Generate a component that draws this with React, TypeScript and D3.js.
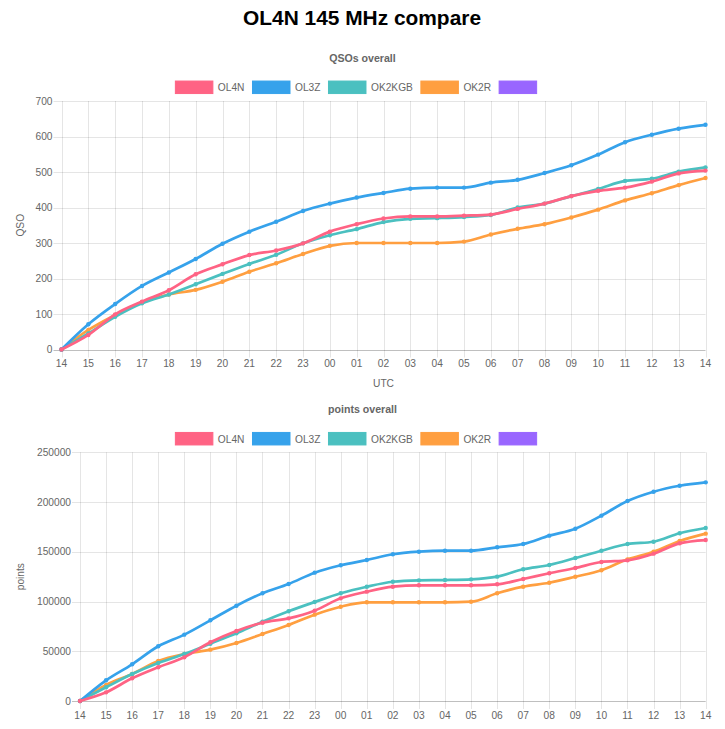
import React, { useEffect, useRef } from 'react';
import * as d3 from 'd3';

const hours = ["14","15","16","17","18","19","20","21","22","23","00","01","02","03","04","05","06","07","08","09","10","11","12","13","14"];
const seriesNames = ["OL4N", "OL3Z", "OK2KGB", "OK2R", ""];
const seriesColors = ["rgb(255, 99, 132)", "rgb(54, 162, 235)", "rgb(75, 192, 192)", "rgb(255, 159, 64)", "rgb(153, 102, 255)"];

const qsoOL4N = [0, 41, 99, 135, 167, 212, 240, 266, 279, 299, 332, 353, 369, 375, 375, 377, 380, 396, 411, 432, 447, 456, 473, 496, 504];
const qsoOL3Z = [0, 71, 128, 179, 217, 255, 298, 332, 360, 390, 411, 428, 441, 453, 456, 456, 470, 478, 497, 519, 549, 584, 605, 622, 633];
const qsoOK2KGB = [0, 45, 92, 130, 155, 184, 213, 241, 267, 299, 322, 339, 359, 368, 370, 373, 379, 400, 411, 432, 452, 475, 481, 501, 513];
const qsoOK2R = [0, 55, 97, 133, 155, 168, 191, 219, 243, 269, 292, 300, 300, 300, 300, 304, 324, 340, 353, 372, 394, 420, 440, 463, 483];

const ptsOL4N = [0, 8700, 22800, 33900, 43900, 59000, 70400, 78700, 83100, 90800, 103200, 109900, 114900, 116300, 116300, 116300, 117300, 122600, 128400, 133700, 139700, 141400, 148100, 158500, 161800];
const ptsOL3Z = [0, 20800, 36900, 55000, 66700, 81100, 95800, 108300, 117600, 129000, 136400, 141700, 147500, 150100, 151100, 151100, 154500, 157800, 166200, 173200, 186300, 201000, 210400, 216400, 219800];
const ptsOK2KGB = [0, 13800, 27100, 38200, 47200, 57600, 68100, 79700, 90200, 99500, 108300, 114900, 119900, 121300, 121600, 122300, 125000, 132400, 136700, 143700, 151100, 157800, 160100, 168600, 173900];
const ptsOK2R = [0, 16100, 27100, 40200, 47200, 51600, 58300, 67300, 76400, 86800, 94800, 99200, 99200, 99200, 99200, 99800, 108300, 114900, 118900, 124900, 131400, 142400, 150100, 160800, 168200];

const qsoTicks = [0, 100, 200, 300, 400, 500, 600, 700];
const ptsTicks = [0, 50000, 100000, 150000, 200000, 250000];

const FONT = "'Liberation Sans', Arial, Helvetica, sans-serif";
const GRAY = "#666";

type Cfg = {
  title: string; titleY: number; legendY: number;
  x0: number; x1: number; yTop: number; yBottom: number;
  ticks: number[]; yLabel: string; xLabel: string | null;
  series: number[][];
};

function drawChart(svg: any, cfg: Cfg) {
  const g = svg.append('g');
  // chart title
  g.append('text').attr('x', 362.5).attr('y', cfg.titleY)
    .attr('text-anchor', 'middle').attr('dominant-baseline', 'central')
    .attr('font-family', FONT).attr('font-size', 10.6).attr('font-weight', 'bold')
    .attr('fill', GRAY).text(cfg.title);

  // legend
  const boxW = 37.5, boxH = 12.5, gapBT = 5, gapNext = 8;
  const lg = g.append('g');
  const widths: number[] = seriesNames.map((name) => {
    if (!name) return 0;
    const t = lg.append('text').attr('font-family', FONT).attr('font-size', 10.2).text(name);
    const w = (t.node() as SVGTextElement).getComputedTextLength();
    t.remove();
    return w;
  });
  const total = d3.sum(widths.map((w) => boxW + gapBT + w + gapNext));
  let cx = 362.5 - total / 2;
  seriesNames.forEach((name, i) => {
    lg.append('rect').attr('x', cx).attr('y', cfg.legendY - boxH / 2)
      .attr('width', boxW).attr('height', boxH)
      .attr('fill', seriesColors[i]).attr('stroke', seriesColors[i]).attr('stroke-width', 1);
    if (name) {
      lg.append('text').attr('x', cx + boxW + gapBT).attr('y', cfg.legendY + 0.5)
        .attr('dominant-baseline', 'central')
        .attr('font-family', FONT).attr('font-size', 10.2).attr('fill', GRAY).text(name);
    }
    cx += boxW + gapBT + widths[i] + gapNext;
  });

  const x = d3.scalePoint<number>().domain(d3.range(hours.length)).range([cfg.x0, cfg.x1]);
  const y = d3.scaleLinear().domain([0, cfg.ticks[cfg.ticks.length - 1]]).range([cfg.yBottom, cfg.yTop]);

  // horizontal grid
  cfg.ticks.forEach((t) => {
    const yy = Math.round(y(t)) + 0.5;
    g.append('line').attr('x1', cfg.x0 - 8).attr('x2', cfg.x1).attr('y1', yy).attr('y2', yy)
      .attr('stroke', t === 0 ? 'rgba(0,0,0,0.25)' : 'rgba(0,0,0,0.1)').attr('stroke-width', 1);
    g.append('text').attr('x', cfg.x0 - 9).attr('y', y(t))
      .attr('text-anchor', 'end').attr('dominant-baseline', 'central')
      .attr('font-family', FONT).attr('font-size', 10.2).attr('fill', GRAY).text(String(t));
  });
  // vertical grid
  hours.forEach((h, i) => {
    const xx = Math.round(x(i)!) + 0.5;
    g.append('line').attr('x1', xx).attr('x2', xx).attr('y1', cfg.yTop).attr('y2', cfg.yBottom + 8)
      .attr('stroke', 'rgba(0,0,0,0.1)').attr('stroke-width', 1);
    g.append('text').attr('x', x(i)!).attr('y', cfg.yBottom + 14)
      .attr('text-anchor', 'middle').attr('dominant-baseline', 'central')
      .attr('font-family', FONT).attr('font-size', 10.2).attr('fill', GRAY).text(h);
  });

  // y label
  const midY = (cfg.yTop + cfg.yBottom) / 2;
  g.append('text').attr('transform', `translate(20,${midY}) rotate(-90)`)
    .attr('text-anchor', 'middle').attr('dominant-baseline', 'central')
    .attr('font-family', FONT).attr('font-size', 10.2).attr('fill', GRAY).text(cfg.yLabel);
  if (cfg.xLabel) {
    g.append('text').attr('x', (cfg.x0 + cfg.x1) / 2).attr('y', cfg.yBottom + 34)
      .attr('text-anchor', 'middle').attr('dominant-baseline', 'central')
      .attr('font-family', FONT).attr('font-size', 10.2).attr('fill', GRAY).text(cfg.xLabel);
  }

  // lines (drawn last dataset first so the first one is on top)
  const line = d3.line<number>().x((_, i) => x(i)!).y((d) => y(d)).curve(d3.curveMonotoneX);
  for (let s = cfg.series.length - 1; s >= 0; s--) {
    const data = cfg.series[s];
    g.append('path').attr('d', line(data)!).attr('fill', 'none')
      .attr('stroke', seriesColors[s]).attr('stroke-width', 2.7)
      .attr('stroke-linejoin', 'round').attr('stroke-linecap', 'round');
    g.selectAll(null).data(data).enter().append('circle')
      .attr('cx', (_: number, i: number) => x(i)!).attr('cy', (d: number) => y(d))
      .attr('r', 2.2).attr('fill', seriesColors[s]);
  }
}

export default function App() {
  const ref = useRef<SVGSVGElement | null>(null);
  useEffect(() => {
    const svg = d3.select(ref.current);
    svg.selectAll('*').remove();
    svg.append('rect').attr('width', 725).attr('height', 729).attr('fill', '#fff');
    svg.append('text').attr('x', 362).attr('y', 25)
      .attr('text-anchor', 'middle').attr('font-family', FONT)
      .attr('font-size', 20.9).attr('font-weight', 'bold').attr('fill', '#000')
      .text('OL4N 145 MHz compare');
    drawChart(svg, {
      title: 'QSOs overall', titleY: 57.5, legendY: 87.3,
      x0: 61.5, x1: 705.5, yTop: 101, yBottom: 349.5,
      ticks: qsoTicks, yLabel: 'QSO', xLabel: 'UTC',
      series: [qsoOL4N, qsoOL3Z, qsoOK2KGB, qsoOK2R],
    });
    drawChart(svg, {
      title: 'points overall', titleY: 409.3, legendY: 438.7,
      x0: 80, x1: 705.7, yTop: 452.3, yBottom: 701,
      ticks: ptsTicks, yLabel: 'points', xLabel: null,
      series: [ptsOL4N, ptsOL3Z, ptsOK2KGB, ptsOK2R],
    });
  }, []);
  return (
    <svg ref={ref} width={725} height={729}
      style={{ position: 'absolute', left: 0, top: 0, display: 'block' }} />
  );
}
